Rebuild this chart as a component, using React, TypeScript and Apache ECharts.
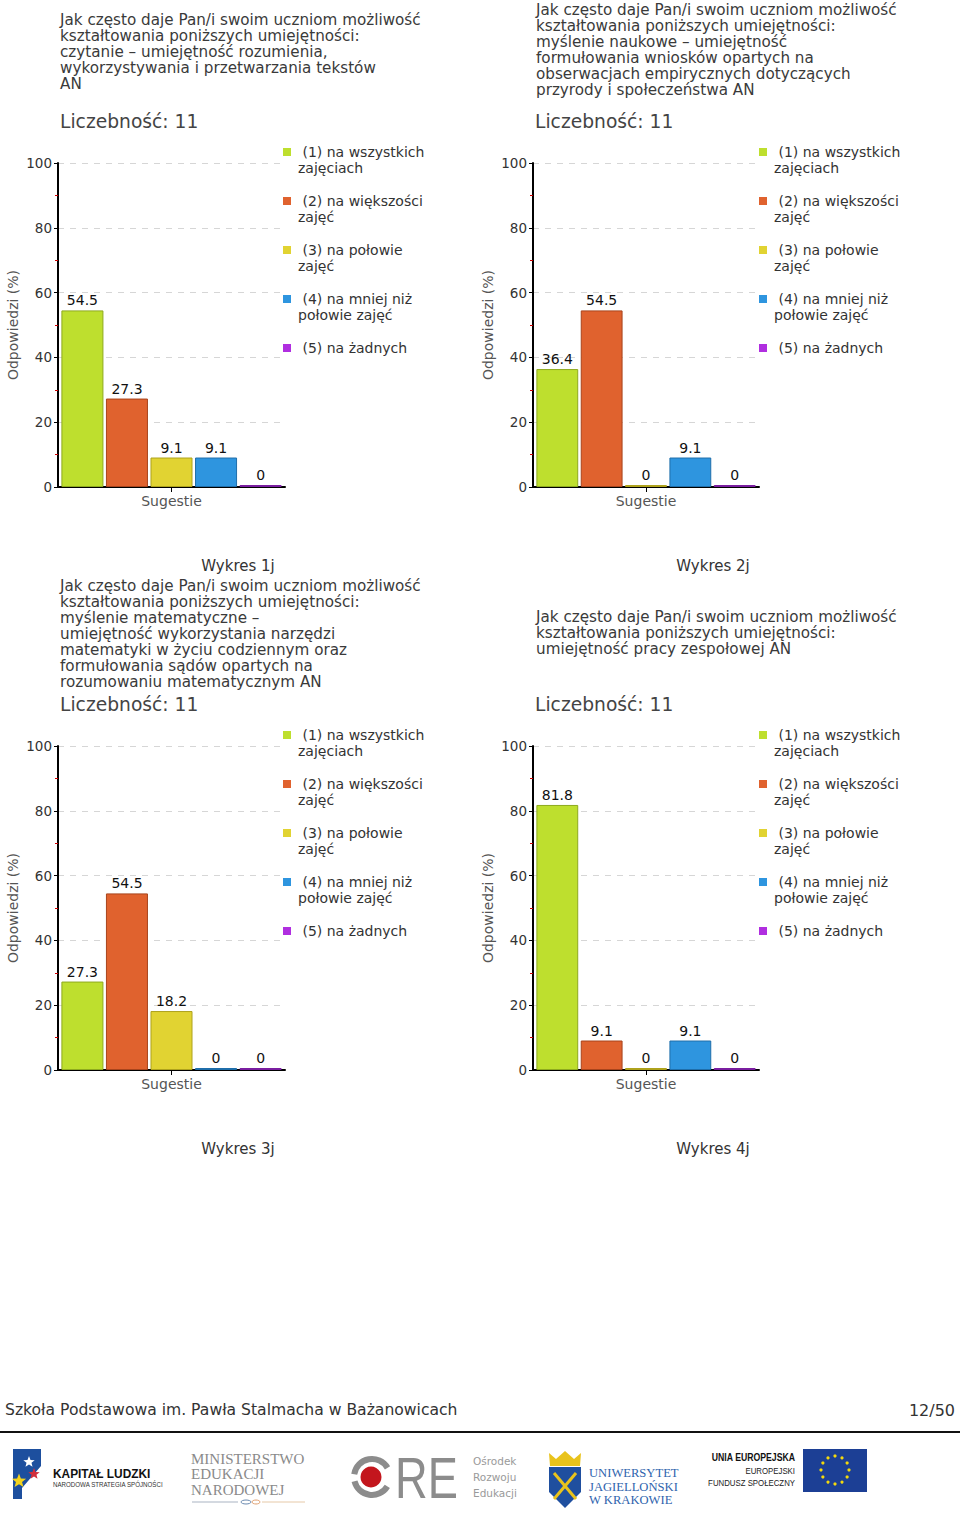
import React, { useEffect, useRef } from "react";
import * as echarts from "echarts";

const FONT = "'DejaVu Sans', Verdana, sans-serif";

const CATEGORIES = ["Sugestie"];
const RESPONSE_OPTIONS = [
  "(1) na wszystkich zajęciach",
  "(2) na większości zajęć",
  "(3) na połowie zajęć",
  "(4) na mniej niż połowie zajęć",
  "(5) na żadnych",
];
const LEGEND_LABELS = [
  " (1) na wszystkich\nzajęciach",
  " (2) na większości\nzajęć",
  " (3) na połowie\nzajęć",
  " (4) na mniej niż\npołowie zajęć",
  " (5) na żadnych\n ",
];
const BAR_COLORS = ["#bedf2e", "#e0622e", "#e1d332", "#2e95df", "#b02ee0"];
const BAR_BORDERS = ["#8eaa1e", "#a8441c", "#aea21c", "#1f6eaa", "#7a1ea0"];

const WYKRES_1J = [54.5, 27.3, 9.1, 9.1, 0];
const WYKRES_2J = [36.4, 54.5, 0, 9.1, 0];
const WYKRES_3J = [27.3, 54.5, 18.2, 0, 0];
const WYKRES_4J = [81.8, 9.1, 0, 9.1, 0];
const CHART_VALUES = [WYKRES_1J, WYKRES_2J, WYKRES_3J, WYKRES_4J];

const COUNTS = [11, 11, 11, 11];
const CAPTIONS = ["Wykres 1j", "Wykres 2j", "Wykres 3j", "Wykres 4j"];

const TITLE_1J = [
  "Jak często daje Pan/i swoim uczniom możliwość",
  "kształtowania poniższych umiejętności:",
  "czytanie – umiejętność rozumienia,",
  "wykorzystywania i przetwarzania tekstów",
  "AN",
];
const TITLE_2J = [
  "Jak często daje Pan/i swoim uczniom możliwość",
  "kształtowania poniższych umiejętności:",
  "myślenie naukowe – umiejętność",
  "formułowania wniosków opartych na",
  "obserwacjach empirycznych dotyczących",
  "przyrody i społeczeństwa AN",
];
const TITLE_3J = [
  "Jak często daje Pan/i swoim uczniom możliwość",
  "kształtowania poniższych umiejętności:",
  "myślenie matematyczne –",
  "umiejętność wykorzystania narzędzi",
  "matematyki w życiu codziennym oraz",
  "formułowania sądów opartych na",
  "rozumowaniu matematycznym AN",
];
const TITLE_4J = [
  "Jak często daje Pan/i swoim uczniom możliwość",
  "kształtowania poniższych umiejętności:",
  "umiejętność pracy zespołowej AN",
];
const TITLES = [TITLE_1J, TITLE_2J, TITLE_3J, TITLE_4J];

const Y_MIN = 0;
const Y_MAX = 100;
const Y_INTERVAL = 20;
const Y_NAME = "Odpowiedzi (%)";

const FOOTER_TEXT = "Szkoła Podstawowa im. Pawła Stalmacha w Bażanowicach";
const PAGE_NUMBER = "12/50";

// layout (positions, not data)
const GRID_POS = [
  { left: 58, top: 163 },
  { left: 533, top: 163 },
  { left: 58, top: 746 },
  { left: 533, top: 746 },
];
const TITLE_POS = [
  { left: 60, top: 12 },
  { left: 536, top: 2 },
  { left: 60, top: 578 },
  { left: 536, top: 609 },
];
const COUNT_TOP = [111, 111, 694, 694];
const COUNT_LEFT = [60, 535, 60, 535];
const CAPTION_POS = [
  [238, 566],
  [713, 566],
  [238, 1149],
  [713, 1149],
];

const LEGEND_ICON = "path://M0,4L8,4L8,12L0,12Z M0,0L0,0 M10,32L10,32";

function starPoints(cx: number, cy: number, R: number, r: number) {
  const pts: number[][] = [];
  for (let i = 0; i < 10; i++) {
    const a = -Math.PI / 2 + (i * Math.PI) / 5;
    const rad = i % 2 === 0 ? R : r;
    pts.push([cx + rad * Math.cos(a), cy + rad * Math.sin(a)]);
  }
  return pts;
}

function txt(
  text: string,
  x: number,
  y: number,
  size: number,
  fill: string,
  opts: any = {}
) {
  const align = opts.align || "left";
  return {
    type: "text",
    x,
    y,
    scaleX: opts.scaleX || 1,
    style: {
      text,
      fontSize: size,
      fontFamily: opts.family || FONT,
      fontWeight: opts.weight || "normal",
      fill,
      align,
      textAlign: align,
      verticalAlign: "middle",
      textVerticalAlign: "middle",
    },
  };
}

function buildOption() {
  const grids = GRID_POS.map((p, g) => ({
    left: p.left,
    top: p.top,
    width: g % 2 === 0 ? 227 : 226,
    height: 324,
    containLabel: false,
  }));

  const xAxes = GRID_POS.map((_, g) => ({
    gridIndex: g,
    type: "category",
    data: CATEGORIES,
    axisLine: { show: true, lineStyle: { color: "#000", width: 2 } },
    axisTick: { show: true, alignWithLabel: true, length: 5, lineStyle: { color: "#000" } },
    axisLabel: { fontSize: 14, color: "#555", margin: 7, fontFamily: FONT },
    splitLine: { show: false },
  }));

  const yAxes = GRID_POS.map((_, g) => ({
    gridIndex: g,
    type: "value",
    min: Y_MIN,
    max: Y_MAX,
    interval: Y_INTERVAL,
    name: Y_NAME,
    nameLocation: "middle",
    nameGap: 38,
    nameTextStyle: { fontSize: 14, color: "#555", fontFamily: FONT },
    axisLine: { show: true, lineStyle: { color: "#000", width: 2 } },
    axisTick: { show: true, length: 4, lineStyle: { color: "#000" } },
    minorTick: { show: true, splitNumber: 2, length: 3, lineStyle: { color: "#cc0000" } },
    axisLabel: { fontSize: 13.5, color: "#333", margin: 6, fontFamily: FONT },
    splitLine: { show: true, lineStyle: { type: [6, 6], color: "#d6d6d6" } },
  }));

  const series: any[] = [];
  CHART_VALUES.forEach((vals, g) => {
    RESPONSE_OPTIONS.forEach((name, i) => {
      series.push({
        type: "bar",
        name,
        xAxisIndex: g,
        yAxisIndex: g,
        data: [vals[i]],
        barGap: "6%",
        barCategoryGap: "3%",
        barMinHeight: 2,
        itemStyle: { color: BAR_COLORS[i], borderColor: BAR_BORDERS[i], borderWidth: 1 },
        label: {
          show: true,
          position: "top",
          distance: 3,
          fontSize: 14,
          color: "#111",
          fontFamily: FONT,
        },
      });
    });
  });

  const legends = GRID_POS.map((p, g) => ({
    orient: "vertical",
    left: g % 2 === 0 ? 283 : 759,
    top: p.top - 19,
    padding: 0,
    itemWidth: 10,
    itemHeight: 32,
    itemGap: 17,
    icon: LEGEND_ICON,
    selectedMode: false,
    data: RESPONSE_OPTIONS,
    formatter: (name: string) => LEGEND_LABELS[RESPONSE_OPTIONS.indexOf(name)],
    itemStyle: { borderWidth: 0 },
    textStyle: { fontSize: 14, lineHeight: 16, color: "#333", fontFamily: FONT },
  }));

  const titles: any[] = [];
  TITLES.forEach((lines, g) => {
    titles.push({
      text: lines.join("\n"),
      left: TITLE_POS[g].left,
      top: TITLE_POS[g].top,
      padding: 0,
      textStyle: {
        fontSize: 15.2,
        lineHeight: 16,
        fontWeight: "normal",
        color: "#3a3a3a",
        fontFamily: FONT,
      },
    });
    titles.push({
      text: "Liczebność: " + COUNTS[g],
      left: COUNT_LEFT[g],
      top: COUNT_TOP[g],
      padding: 0,
      textStyle: {
        fontSize: 18.7,
        lineHeight: 20,
        fontWeight: "normal",
        color: "#444",
        fontFamily: FONT,
      },
    });
  });

  const graphics: any[] = [];
  CAPTIONS.forEach((c, g) => {
    graphics.push(txt(c, CAPTION_POS[g][0], CAPTION_POS[g][1], 15, "#333", { align: "center" }));
  });

  // footer
  graphics.push(txt(FOOTER_TEXT, 5, 1410, 15.6, "#333"));
  graphics.push(txt(PAGE_NUMBER, 955, 1410, 16, "#333", { align: "right" }));
  graphics.push({
    type: "line",
    shape: { x1: 0, y1: 1432, x2: 960, y2: 1432 },
    style: { stroke: "#111", lineWidth: 2 },
  });

  const sans = "'Liberation Sans', Arial, sans-serif";
  const serif = "'Liberation Serif', 'DejaVu Serif', serif";

  // Kapitał Ludzki logo
  graphics.push({
    type: "polygon",
    shape: { points: [[13, 1449], [41, 1449], [41, 1466], [22, 1488], [22, 1499], [13, 1499]] },
    style: { fill: "#1d4f9e" },
  });
  graphics.push({ type: "polygon", shape: { points: starPoints(29, 1462, 6, 2.6) }, style: { fill: "#ffffff" } });
  graphics.push({ type: "polygon", shape: { points: starPoints(34, 1474, 6, 2.6) }, style: { fill: "#d22f3c" } });
  graphics.push({ type: "polygon", shape: { points: starPoints(19, 1481, 7.5, 3.2) }, style: { fill: "#f3d31c" } });
  graphics.push(txt("KAPITAŁ LUDZKI", 53, 1473, 13.5, "#111", { family: sans, weight: "bold", scaleX: 0.88 }));
  graphics.push(txt("NARODOWA STRATEGIA SPÓJNOŚCI", 53, 1484, 6.5, "#333", { family: sans, scaleX: 0.95 }));

  // MEN logo
  graphics.push(txt("MINISTERSTWO", 191, 1459, 15, "#8a8a8a", { family: serif }));
  graphics.push(txt("EDUKACJI", 191, 1474, 15, "#8a8a8a", { family: serif }));
  graphics.push(txt("NARODOWEJ", 191, 1490, 15, "#8a8a8a", { family: serif }));
  graphics.push({ type: "line", shape: { x1: 192, y1: 1502, x2: 238, y2: 1502 }, style: { stroke: "#a9b3c2", lineWidth: 1 } });
  graphics.push({ type: "line", shape: { x1: 262, y1: 1502, x2: 305, y2: 1502 }, style: { stroke: "#e6c9a8", lineWidth: 1 } });
  graphics.push({ type: "ellipse", shape: { cx: 246, cy: 1502, rx: 5, ry: 2 }, style: { fill: "none", stroke: "#6a8ab0", lineWidth: 1 } });
  graphics.push({ type: "ellipse", shape: { cx: 256, cy: 1502, rx: 4, ry: 2 }, style: { fill: "none", stroke: "#e0a070", lineWidth: 1 } });

  // ORE logo
  graphics.push({
    type: "arc",
    shape: { cx: 372, cy: 1477, r: 18, startAngle: 0.55, endAngle: 2.9 },
    style: { stroke: "#8c8c8c", lineWidth: 6, fill: "none" },
  });
  graphics.push({
    type: "arc",
    shape: { cx: 372, cy: 1477, r: 18, startAngle: 3.3, endAngle: 5.75 },
    style: { stroke: "#8c8c8c", lineWidth: 6, fill: "none" },
  });
  graphics.push({ type: "circle", shape: { cx: 371, cy: 1477, r: 10.5 }, style: { fill: "#c3161d" } });
  graphics.push(txt("RE", 395, 1478, 58, "#8c8c8c", { family: sans, scaleX: 0.78 }));
  graphics.push(txt("Ośrodek", 473, 1461, 10.5, "#9a9a9a"));
  graphics.push(txt("Rozwoju", 473, 1477, 10.5, "#9a9a9a"));
  graphics.push(txt("Edukacji", 473, 1493, 10.5, "#9a9a9a"));

  // UJ logo
  graphics.push({
    type: "polygon",
    shape: { points: [[550, 1466], [549, 1453], [556, 1459], [565, 1451], [574, 1459], [581, 1453], [580, 1466]] },
    style: { fill: "#e9c31c" },
  });
  graphics.push({
    type: "polygon",
    shape: { points: [[549, 1467], [581, 1467], [581, 1492], [565, 1508], [549, 1492]] },
    style: { fill: "#1f4f9f" },
  });
  graphics.push({ type: "line", shape: { x1: 554, y1: 1473, x2: 576, y2: 1499 }, style: { stroke: "#e9c31c", lineWidth: 3 } });
  graphics.push({ type: "line", shape: { x1: 576, y1: 1473, x2: 554, y2: 1499 }, style: { stroke: "#e9c31c", lineWidth: 3 } });
  graphics.push(txt("UNIWERSYTET", 589, 1473, 12, "#2e63ad", { family: serif, scaleX: 1.05 }));
  graphics.push(txt("JAGIELLOŃSKI", 589, 1487, 12, "#2e63ad", { family: serif, scaleX: 1.05 }));
  graphics.push(txt("W KRAKOWIE", 589, 1500, 12, "#2e63ad", { family: serif, scaleX: 1.05 }));

  // EU logo
  graphics.push(txt("UNIA EUROPEJSKA", 795, 1458, 10, "#111", { family: sans, weight: "bold", align: "right", scaleX: 0.87 }));
  graphics.push(txt("EUROPEJSKI", 795, 1471, 9, "#222", { family: sans, align: "right", scaleX: 0.87 }));
  graphics.push(txt("FUNDUSZ SPOŁECZNY", 795, 1483, 9, "#222", { family: sans, align: "right", scaleX: 0.87 }));
  graphics.push({ type: "rect", shape: { x: 803, y: 1449, width: 64, height: 43 }, style: { fill: "#1c3f95" } });
  for (let k = 0; k < 12; k++) {
    const a = (k * Math.PI) / 6;
    graphics.push({
      type: "circle",
      shape: { cx: 835 + 14 * Math.cos(a), cy: 1470 + 14 * Math.sin(a), r: 1.6 },
      style: { fill: "#f4d90c" },
    });
  }

  return {
    animation: false,
    backgroundColor: "#ffffff",
    textStyle: { fontFamily: FONT },
    title: titles,
    legend: legends,
    grid: grids,
    xAxis: xAxes,
    yAxis: yAxes,
    series,
    graphic: { elements: graphics },
  };
}

export default function App() {
  const ref = useRef<HTMLDivElement>(null);
  useEffect(() => {
    if (!ref.current) return;
    const chart = echarts.init(ref.current, undefined, { renderer: "svg" });
    chart.setOption(buildOption() as any);
    return () => chart.dispose();
  }, []);
  return (
    <div
      ref={ref}
      style={{ position: "absolute", left: 0, top: 0, width: 960, height: 1521, background: "#fff" }}
    />
  );
}
